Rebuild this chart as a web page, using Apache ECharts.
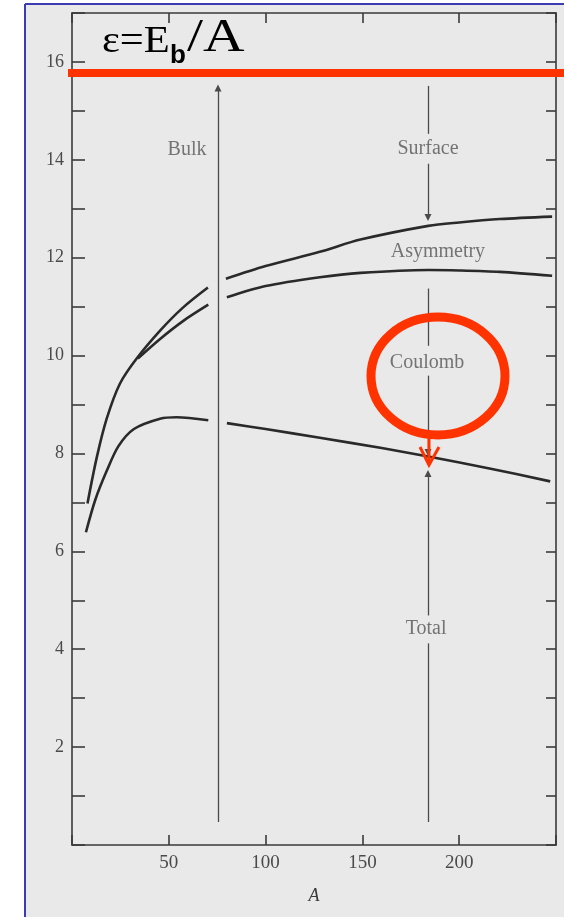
<!DOCTYPE html>
<html>
<head>
<meta charset="utf-8">
<script src="https://cdn.jsdelivr.net/npm/echarts@6.0.0/dist/echarts.min.js"></script>
<style>
html,body{margin:0;padding:0;background:#fff;}
#chart{width:564px;height:917px;}
</style>
</head>
<body>
<div id="chart"></div>
<script>
// ---- data ----
const surfaceLeftA = [8, 12.8, 18, 24.8, 33.4, 45.5, 57.3, 70.2];
const surfaceLeftV = [6.98, 7.92, 8.72, 9.43, 9.94, 10.51, 10.98, 11.39];
const surfaceRightA = [79.5, 100, 128, 149, 184, 200, 221, 248];
const surfaceRightV = [11.57, 11.83, 12.12, 12.37, 12.65, 12.72, 12.79, 12.84];

const asymLeftA = [34, 45.5, 57.5, 70.4];
const asymLeftV = [9.94, 10.34, 10.71, 11.04];
const asymRightA = [80, 100, 128, 149, 184, 200, 221, 248];
const asymRightV = [11.19, 11.42, 11.6, 11.69, 11.75, 11.74, 11.71, 11.63];

const totalLeftA = [7.2, 12, 18, 24, 32, 45.5, 54, 70.4];
const totalLeftV = [6.39, 7.05, 7.65, 8.15, 8.5, 8.71, 8.74, 8.68];
const totalRightA = [80, 100, 128, 160, 184, 215, 247];
const totalRightV = [8.62, 8.5, 8.32, 8.11, 7.94, 7.7, 7.43];

// annotation columns (A position) and segments [from, to, endArrow]
const bulkA = 75.4;
const bulkSegments = [[0.47, 15.47, true]];
const termA = 183.9;
const termSegments = [
  [15.51, 14.53, false],
  [13.92, 12.82, true],
  [11.37, 10.2, false],
  [9.59, 8.02, true],
  [4.69, 7.59, true],
  [0.47, 4.12, false]
];

const labelNames = ['Bulk', 'Surface', 'Asymmetry', 'Coulomb', 'Total'];
const labelA = [59.4, 183.9, 189, 183.4, 182.9];
const labelV = [14.2, 14.22, 12.12, 9.86, 4.41];

const xMin = 0, xMax = 250, xStep = 50;
const yMin = 0, yMax = 17, yStep = 1;

// ---- build ----
const zip = (a, b) => a.map((v, i) => [v, b[i]]);
const serif = '"Liberation Serif", "DejaVu Serif", serif';
const curveStyle = { color: '#2a2a2a', width: 2.6 };

function curve(a, v) {
  return {
    type: 'line', data: zip(a, v), smooth: 0.3,
    showSymbol: false, symbol: 'none', lineStyle: curveStyle, silent: true,
    xAxisIndex: 0, yAxisIndex: 0, z: 3
  };
}

function segs(colA, list) {
  return list.map(s => [
    { coord: [colA, s[0]], symbol: 'none' },
    { coord: [colA, s[1]], symbol: s[2] ? 'triangle' : 'none', symbolSize: 7 }
  ]);
}

const chart = echarts.init(document.getElementById('chart'), null, { renderer: 'canvas' });

const axisLine = { show: true, onZero: false, lineStyle: { color: '#3a3a3a', width: 1.6 } };
const tickStyle = { color: '#3a3a3a', width: 1.6 };

chart.setOption({
  animation: false,
  backgroundColor: '#ffffff',
  grid: { left: 72, top: 13, width: 484, height: 832, containLabel: false },
  xAxis: [
    {
      type: 'value', min: xMin, max: xMax, interval: xStep, position: 'bottom',
      axisLine: axisLine, splitLine: { show: false },
      axisTick: { show: true, inside: true, length: 10, lineStyle: tickStyle },
      axisLabel: {
        margin: 9, color: '#4a4a4a', fontFamily: serif, fontSize: 19,
        formatter: v => (v > xMin && v < xMax ? String(v) : '')
      },
      name: 'A', nameLocation: 'middle', nameGap: 42,
      nameTextStyle: { fontFamily: serif, fontStyle: 'italic', fontSize: 18, color: '#3a3a3a' }
    },
    {
      type: 'value', min: xMin, max: xMax, interval: xStep, position: 'top',
      axisLine: axisLine, splitLine: { show: false },
      axisTick: { show: true, inside: true, length: 10, lineStyle: tickStyle },
      axisLabel: { show: false }
    }
  ],
  yAxis: [
    {
      type: 'value', min: yMin, max: yMax, interval: yStep, position: 'left',
      axisLine: axisLine, splitLine: { show: false },
      axisTick: { show: true, inside: true, length: 13, lineStyle: tickStyle },
      axisLabel: {
        margin: 8, color: '#4a4a4a', fontFamily: serif, fontSize: 18,
        formatter: v => (v % 2 === 0 && v > yMin && v < yMax ? String(v) : '')
      }
    },
    {
      type: 'value', min: yMin, max: yMax, interval: yStep, position: 'right',
      axisLine: axisLine, splitLine: { show: false },
      axisTick: { show: true, inside: true, length: 10, lineStyle: tickStyle },
      axisLabel: { show: false }
    }
  ],
  series: [
    curve(surfaceLeftA, surfaceLeftV),
    curve(surfaceRightA, surfaceRightV),
    curve(asymLeftA, asymLeftV),
    curve(asymRightA, asymRightV),
    curve(totalLeftA, totalLeftV),
    curve(totalRightA, totalRightV),
    {
      type: 'line', data: [], silent: true, xAxisIndex: 0, yAxisIndex: 0,
      markLine: {
        silent: true, animation: false,
        lineStyle: { color: '#4a4a4a', width: 1.3, type: 'solid' },
        itemStyle: { color: '#3a3a3a' },
        label: { show: false }, emphasis: { disabled: true },
        data: segs(bulkA, bulkSegments).concat(segs(termA, termSegments))
      }
    },
    {
      type: 'scatter', silent: true, xAxisIndex: 0, yAxisIndex: 0,
      symbolSize: 1, itemStyle: { color: 'rgba(0,0,0,0)' },
      data: labelNames.map((n, i) => ({ name: n, value: [labelA[i], labelV[i]] })),
      label: {
        show: true, position: 'inside', formatter: p => p.name,
        fontFamily: serif, fontSize: 20, color: '#555555'
      },
      labelLayout: { hideOverlap: false },
      z: 5
    }
  ],
  graphic: [
    { type: 'rect', z: -10, silent: true, shape: { x: 26, y: 5, width: 540, height: 915 }, style: { fill: '#e9e9e9' } },
    { type: 'line', z: 100, silent: true, shape: { x1: 25, y1: 4, x2: 564, y2: 4 }, style: { stroke: '#3c3cb0', lineWidth: 2 } },
    { type: 'line', z: 100, silent: true, shape: { x1: 25, y1: 4, x2: 25, y2: 917 }, style: { stroke: '#3c3cb0', lineWidth: 2 } },
    // red annotation overlays
    { type: 'rect', z: 100, silent: true, shape: { x: 68, y: 69, width: 500, height: 8 }, style: { fill: '#ff3300' } },
    { type: 'ellipse', z: 100, silent: true, shape: { cx: 438, cy: 376, rx: 67, ry: 59 }, style: { fill: 'none', stroke: '#ff3300', lineWidth: 9 } },
    { type: 'polyline', z: 100, silent: true, shape: { points: [[429, 436], [429, 465]] }, style: { stroke: '#ff3300', lineWidth: 3 } },
    { type: 'polyline', z: 100, silent: true, shape: { points: [[420, 447], [429, 465], [439, 447]] }, style: { fill: 'none', stroke: '#ff3300', lineWidth: 3 } },
    // title formula
    { type: 'text', z: 100, silent: true, x: 102, y: 42, scaleX: 1.15, style: { text: 'ε=E', x: 0, y: 0, font: '37px "Liberation Serif", serif', fill: '#000', verticalAlign: 'middle' } },
    { type: 'text', z: 100, silent: true, x: 170, y: 56, style: { text: 'b', x: 0, y: 0, font: 'bold 26px "Liberation Sans", sans-serif', fill: '#000', verticalAlign: 'middle' } },
    { type: 'text', z: 100, silent: true, x: 187, y: 39, scaleX: 1.25, style: { text: '/A', x: 0, y: 0, font: '46px "Liberation Serif", serif', fill: '#000', verticalAlign: 'middle' } }
  ]
});
</script>
</body>
</html>
